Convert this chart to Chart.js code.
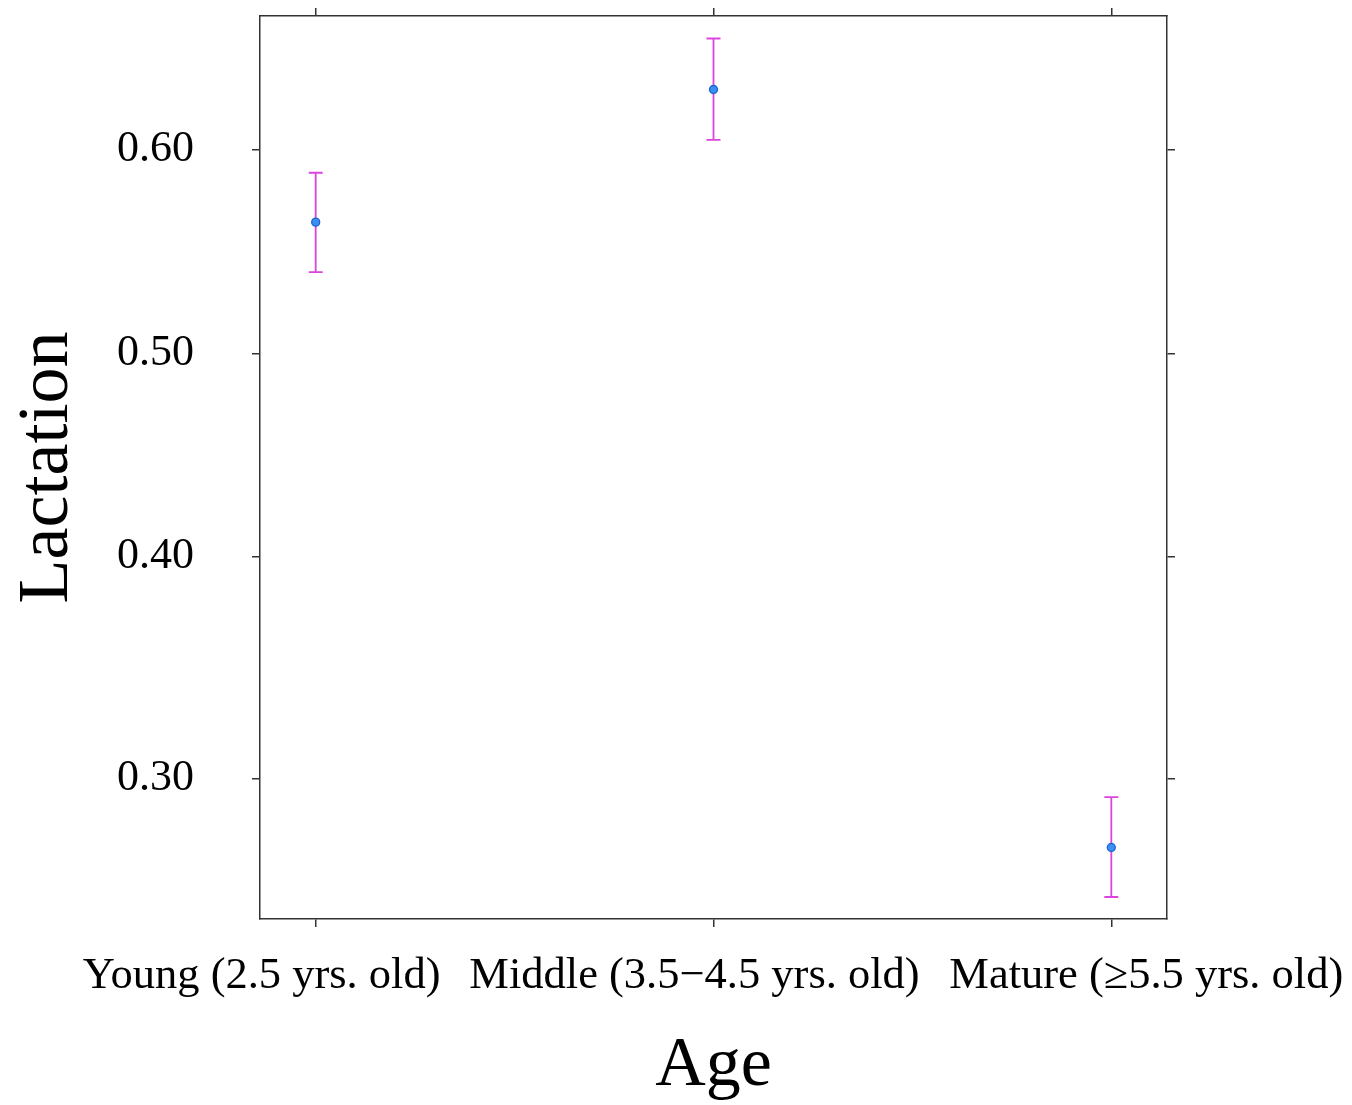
<!DOCTYPE html>
<html><head><meta charset="utf-8">
<script src="https://cdn.jsdelivr.net/npm/chart.js@4"></script>
<style>html,body{margin:0;padding:0;background:#fff}canvas{display:block}</style>
</head><body>
<canvas id="c" width="1352" height="1105"></canvas>
<script>
// ---- data ----
const categories = ['Young (2.5 yrs. old)', 'Middle (3.5\u22124.5 yrs. old)', 'Mature (\u22655.5 yrs. old)'];
const fitValues = [0.565, 0.6285, 0.272];
const lowerValues = [0.5404, 0.6048, 0.2529];
const upperValues = [0.589, 0.6519, 0.2923];
const yTickValues = [0.30, 0.40, 0.50, 0.60];
const yTickLabels = ['0.30', '0.40', '0.50', '0.60'];
const yRange = [0.2447, 0.662];
const xRange = [0.86, 3.14];
const xTitle = 'Age';
const yTitle = 'Lactation';

// ---- styling / helpers ----
const logit = p => Math.log(p / (1 - p));
const FONT = "'Liberation Serif', 'Times New Roman', serif";
const LABEL_SHIFT = [-54, -19, 35];
const AXIS_COLOR = '#333333';
const BAR_COLOR = '#dd44dd';

const catIdx = categories.map((c, i) => i + 1);

function fixSize(prop, size) {
  return s => {
    s[prop] = size;
    s.paddingLeft = s.paddingRight = s.paddingTop = s.paddingBottom = 0;
  };
}
const gridOpts = {drawOnChartArea: false, drawTicks: true, tickLength: 8, color: AXIS_COLOR, tickColor: AXIS_COLOR, lineWidth: 1.5, tickWidth: 1.5};
const borderOpts = {display: true, color: AXIS_COLOR, width: 1.5};

const errorBars = {
  id: 'errorBars',
  beforeDatasetsDraw(chart) {
    const {ctx, scales: {x, y}} = chart;
    ctx.save();
    ctx.strokeStyle = BAR_COLOR;
    ctx.lineWidth = 1.8;
    catIdx.forEach((c, i) => {
      const px = x.getPixelForValue(c);
      const yl = y.getPixelForValue(logit(lowerValues[i]));
      const yu = y.getPixelForValue(logit(upperValues[i]));
      ctx.beginPath();
      ctx.moveTo(px, yl); ctx.lineTo(px, yu);
      ctx.moveTo(px - 7, yl); ctx.lineTo(px + 7, yl);
      ctx.moveTo(px - 7, yu); ctx.lineTo(px + 7, yu);
      ctx.stroke();
    });
    ctx.restore();
  }
};

const catLabels = {
  id: 'catLabels',
  afterDraw(chart) {
    const {ctx, scales: {x}} = chart;
    ctx.save();
    ctx.fillStyle = '#000';
    ctx.font = '44.5px ' + FONT;
    ctx.textAlign = 'center';
    ctx.textBaseline = 'alphabetic';
    categories.forEach((c, i) => {
      ctx.fillText(c, x.getPixelForValue(catIdx[i]) + LABEL_SHIFT[i], 988);
    });
    ctx.restore();
  }
};

new Chart(document.getElementById('c'), {
  type: 'scatter',
  data: {
    datasets: [{
      data: fitValues.map((v, i) => ({x: catIdx[i], y: logit(v)})),
      pointRadius: 4,
      pointBackgroundColor: '#3a8ff0',
      pointBorderColor: '#1c64d0',
      pointBorderWidth: 1.3,
      showLine: false
    }]
  },
  options: {
    responsive: false,
    animation: false,
    events: [],
    layout: {padding: 0},
    plugins: {legend: {display: false}, tooltip: {enabled: false}},
    scales: {
      x: {
        type: 'linear', position: 'bottom',
        min: xRange[0], max: xRange[1],
        afterBuildTicks: s => { s.ticks = catIdx.map(v => ({value: v})); },
        afterFit: fixSize('height', 186),
        ticks: {display: false},
        grid: gridOpts, border: borderOpts,
        title: {display: true, text: xTitle, color: '#000', font: {family: FONT, size: 70, lineHeight: 1}, padding: {top: 0, bottom: 3}}
      },
      x2: {
        type: 'linear', position: 'top',
        min: xRange[0], max: xRange[1],
        afterBuildTicks: s => { s.ticks = catIdx.map(v => ({value: v})); },
        afterFit: fixSize('height', 16),
        ticks: {display: false},
        grid: gridOpts, border: borderOpts
      },
      y: {
        type: 'linear', position: 'left',
        min: logit(yRange[0]), max: logit(yRange[1]),
        afterBuildTicks: s => { s.ticks = yTickValues.map(v => ({value: logit(v)})); },
        afterFit: fixSize('width', 260),
        ticks: {
          color: '#000', padding: 58,
          font: {family: FONT, size: 44},
          callback: (v, i) => yTickLabels[i]
        },
        grid: gridOpts, border: borderOpts,
        title: {display: true, text: yTitle, color: '#000', font: {family: FONT, size: 72, lineHeight: 1}, padding: {top: 12, bottom: 0}}
      },
      y2: {
        type: 'linear', position: 'right',
        min: logit(yRange[0]), max: logit(yRange[1]),
        afterBuildTicks: s => { s.ticks = yTickValues.map(v => ({value: logit(v)})); },
        afterFit: fixSize('width', 185),
        ticks: {display: false},
        grid: gridOpts, border: borderOpts
      }
    }
  },
  plugins: [errorBars, catLabels]
});
</script>
</body></html>
